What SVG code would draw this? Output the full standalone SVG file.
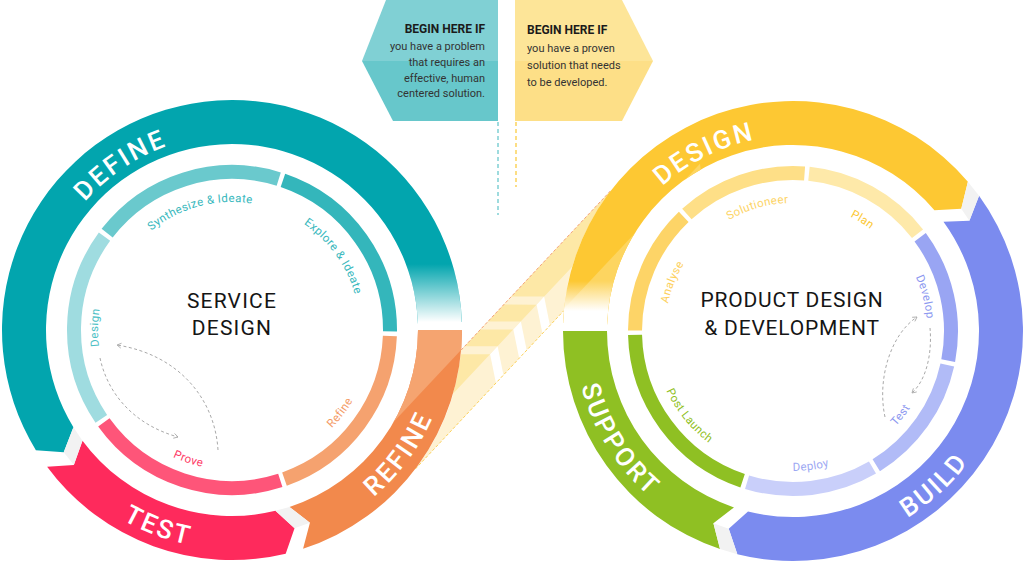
<svg xmlns="http://www.w3.org/2000/svg" width="1024" height="563" viewBox="0 0 1024 563">
<style>
.ring{font-family:Roboto,"Liberation Sans",sans-serif;font-size:26px;font-weight:500;fill:#fff;letter-spacing:2.5px}
.sub{font-family:Roboto,"Liberation Sans",sans-serif;font-size:11.5px;letter-spacing:0.4px}
.center{font-family:Roboto,"Liberation Sans",sans-serif;font-size:21px;fill:#151515;text-anchor:middle}
.btitle{font-family:Roboto,"Liberation Sans",sans-serif;font-size:12px;font-weight:700;fill:#1b1b1b}
.btext{font-family:Roboto,"Liberation Sans",sans-serif;font-size:11px;fill:#333}
.seg{fill:none;stroke-width:14}
.fold{fill:#f2f2f2}
.arrow{fill:none;stroke:#a9a9a9;stroke-width:1;stroke-dasharray:3 2.5}
</style>
<defs>
<marker id="chev" viewBox="0 0 10 10" refX="8" refY="5" markerWidth="7" markerHeight="7" orient="auto" markerUnits="userSpaceOnUse">
<path d="M2 1.5 L8 5 L2 8.5" fill="none" stroke="#a9a9a9" stroke-width="1.2"/>
</marker>
<linearGradient id="fadeL" gradientUnits="userSpaceOnUse" x1="0" y1="264" x2="0" y2="322">
<stop offset="0" stop-color="#fff" stop-opacity="0"/><stop offset="1" stop-color="#fff" stop-opacity="1"/>
</linearGradient>
<linearGradient id="fadeR" gradientUnits="userSpaceOnUse" x1="0" y1="281" x2="0" y2="311">
<stop offset="0" stop-color="#fff" stop-opacity="0"/><stop offset="1" stop-color="#fff" stop-opacity="1"/>
</linearGradient>
<clipPath id="clipRefine"><path d="M303.07 548.74 A230 230 0 0 0 462 330 L418 330 A186 186 0 0 1 289.48 506.90 L309.92 522.85 Z"/></clipPath>
<clipPath id="clipDesign"><path d="M563.14 322.97 A230 230 0 0 1 967.89 181.63 L961.28 208.74 L934.44 210.20 A186 186 0 0 0 607.11 324.51 Z"/></clipPath>
<path id="tpDefine" d="M37.48 343.60 A195 195 0 0 1 317.48 154.74"/>
<path id="tpTest" d="M16.00 366.15 A219 219 0 0 0 371.30 498.98"/>
<path id="tpRefine" d="M207.21 547.59 A219 219 0 0 0 432.84 242.67"/>
<path id="tpDesign" d="M598.36 319.10 A195 195 0 0 1 900.63 168.39"/>
<path id="tpBuild" d="M727.14 539.86 A219 219 0 0 0 1006.81 283.60"/>
<path id="tpSupport" d="M599.63 228.19 A219 219 0 0 0 800.64 549.87"/>
<path id="tpSynth" d="M115.99 275.90 A128 128 0 0 1 305.42 225.15"/>
<path id="tpExplore" d="M240.93 202.31 A128 128 0 0 1 356.20 360.97"/>
<path id="tpDesignIn" d="M144.08 431.13 A134 134 0 0 1 147.67 225.86"/>
<path id="tpProve" d="M101.65 381.08 A140 140 0 0 0 304.94 449.50"/>
<path id="tpRefineIn" d="M238.35 469.86 A140 140 0 0 0 368.63 299.46"/>
<path id="tpSolution" d="M676.07 278.94 A128 128 0 0 1 864.58 224.88"/>
<path id="tpPlan" d="M753.45 209.26 A128 128 0 0 1 919.75 313.19"/>
<path id="tpAnalyse" d="M679.98 391.09 A128 128 0 0 1 753.45 209.26"/>
<path id="tpDevelop" d="M850.99 209.85 A134 134 0 0 1 902.07 408.81"/>
<path id="tpTestIn" d="M797.89 470.91 A140 140 0 0 0 929.94 301.89"/>
<path id="tpDeploy" d="M698.42 434.22 A140 140 0 0 0 911.07 406.22"/>
<path id="tpPost" d="M655.48 304.77 A140 140 0 0 0 791.05 470.99"/>
</defs>

<g id="begin-service">
<polygon points="386,0 498,0 498,61 362,61" fill="#80d0d4"/>
<polygon points="362,61 498,61 498,121 393,121" fill="#67c7cb"/>
<text class="btitle" x="485" y="33" text-anchor="end">BEGIN HERE IF</text>
<text class="btext" text-anchor="end"><tspan x="485" y="49.5">you have a problem</tspan><tspan x="485" y="65.5">that requires an</tspan><tspan x="485" y="81.5">effective, human</tspan><tspan x="485" y="97">centered solution.</tspan></text>
</g>

<g id="begin-product">
<polygon points="515,0 622,0 653,61 515,61" fill="#fde598"/>
<polygon points="515,61 653,61 622,121 515,121" fill="#fddf87"/>
<text class="btitle" x="527" y="34">BEGIN HERE IF</text>
<text class="btext"><tspan x="527" y="52">you have a proven</tspan><tspan x="527" y="69">solution that needs</tspan><tspan x="527" y="86">to be developed.</tspan></text>
</g>

<g id="crossover">
<path d="M461.2 350.0 L611.4 189.9 A230 230 0 0 0 563.9 310.6 L415.4 468.9 A230 230 0 0 0 461.2 350.0 Z" fill="#fef2d3"/>
<path d="M461.2 350.0 L611.4 189.9 A230 230 0 0 0 572.2 266.7 L453.0 393.7 A230 230 0 0 0 461.2 350.0 Z" fill="#fde8a6"/>
<polygon points="490.08,354.21 497.6,346.19 464.71,346.18 457.19,354.2" fill="#fef2d3"/>
<polygon points="513.33,329.43 520.86,321.41 487.97,321.39 480.44,329.41" fill="#fef2d3"/>
<polygon points="536.59,304.64 544.11,296.62 511.22,296.61 503.7,304.62" fill="#fef2d3"/>
<polygon points="490.08,354.21 497.6,346.19 503.46,375.0 495.94,383.02" fill="#fff"/>
<polygon points="513.33,329.43 520.86,321.41 526.72,350.21 519.19,358.23" fill="#fff"/>
<polygon points="536.59,304.64 544.11,296.62 549.97,325.43 542.45,333.44" fill="#fff"/>
<line x1="461.2" y1="350.0" x2="611.4" y2="189.9" stroke="#f3a27c" stroke-width="1" stroke-dasharray="3 2"/>
<line x1="415.4" y1="468.9" x2="563.9" y2="310.6" stroke="#fcd15a" stroke-width="1" stroke-dasharray="3 2"/>
</g>

<g id="service-design">
<g id="phase-define">
<path d="M461.86 321.97 A230 230 0 1 0 35.89 450.18 L63.72 452.26 L73.41 427.19 A186 186 0 1 1 417.89 323.51 Z" fill="#02a5ae"/>
<path d="M440.45 232.80 A230 230 0 0 1 461.99 327.99 L417.99 328.38 A186 186 0 0 0 400.57 251.39 Z" fill="url(#fadeL)"/>
<text class="ring"><textPath href="#tpDefine" startOffset="50%" text-anchor="middle">DEFINE</textPath></text>
</g>
<g id="phase-test">
<path d="M47.11 466.81 A230 230 0 0 0 285.69 553.65 L294.55 528.37 L275.42 510.86 A186 186 0 0 1 82.48 440.64 L73.83 465.09 Z" fill="#fe2a5c"/>
<polygon class="fold" points="73.41,427.19 63.72,452.26 73.83,465.09 82.48,440.64"/>
<text class="ring"><textPath href="#tpTest" startOffset="50%" text-anchor="middle">TEST</textPath></text>
</g>
<g id="phase-refine">
<path d="M303.07 548.74 A230 230 0 0 0 462 330 L418 330 A186 186 0 0 1 289.48 506.90 L309.92 522.85 Z" fill="#f2894c"/>
<polygon points="490,319.2 339.9,479.2 300,300" fill="#f5a470" clip-path="url(#clipRefine)"/>
<polygon class="fold" points="275.42,510.86 294.55,528.37 309.92,522.85 289.48,506.90"/>
<text class="ring"><textPath href="#tpRefine" startOffset="50%" text-anchor="middle">REFINE</textPath></text>
</g>
<g id="step-explore">
<path class="seg" d="M282.92 180.43 A158 158 0 0 1 389.99 331.38" stroke="#34b6bb"/>
<text class="sub" fill="#38b8bd"><textPath href="#tpExplore" startOffset="50%" text-anchor="middle">Explore &amp; Ideate</textPath></text>
</g>
<g id="step-synthesize">
<path class="seg" d="M107.15 233.16 A158 158 0 0 1 278.72 179.07" stroke="#6ac9cd"/>
<text class="sub" fill="#38b8bd"><textPath href="#tpSynth" startOffset="50%" text-anchor="middle">Synthesize &amp; Ideate</textPath></text>
</g>
<g id="step-design">
<path class="seg" d="M101.32 418.81 A158 158 0 0 1 104.50 236.68" stroke="#9fdce0"/>
<text class="sub" fill="#4cc0c5"><textPath href="#tpDesignIn" startOffset="50%" text-anchor="middle">Design</textPath></text>
</g>
<g id="step-prove">
<path class="seg" d="M280.30 480.44 A158 158 0 0 1 103.85 422.42" stroke="#fe5579"/>
<text class="sub" fill="#fe3b66"><textPath href="#tpProve" startOffset="50%" text-anchor="middle">Prove</textPath></text>
</g>
<g id="step-refine">
<path class="seg" d="M389.88 336.07 A158 158 0 0 1 284.48 479.03" stroke="#f5a26f"/>
<text class="sub" fill="#f49b66"><textPath href="#tpRefineIn" startOffset="50%" text-anchor="middle">Refine</textPath></text>
</g>
<g id="title-service">
<text class="center" x="232" y="308" letter-spacing="1.2">SERVICE</text>
<text class="center" x="232" y="335" letter-spacing="1.2">DESIGN</text>
</g>
</g>

<g id="product-design">
<g id="phase-design">
<path d="M563.14 322.97 A230 230 0 0 1 967.89 181.63 L961.28 208.74 L934.44 210.20 A186 186 0 0 0 607.11 324.51 Z" fill="#fdc833"/>
<polygon points="542.9,331.2 700,163.8 720,340 560,360" fill="#fdd560" clip-path="url(#clipDesign)"/>
<path d="M563.03 326.99 A230 230 0 0 1 597.95 209.12 L635.26 232.43 A186 186 0 0 0 607.03 327.75 Z" fill="url(#fadeR)"/>
<text class="ring"><textPath href="#tpDesign" startOffset="50%" text-anchor="middle">DESIGN</textPath></text>
</g>
<g id="phase-build">
<path d="M979.07 195.81 A230 230 0 0 1 737.36 554.17 L728.72 528.82 L748.00 511.48 A186 186 0 0 0 943.48 221.67 L969.39 220.78 Z" fill="#7b8bef"/>
<polygon class="fold" points="967.89,181.63 961.28,208.74 969.39,220.78 979.07,195.81"/>
<text class="ring"><textPath href="#tpBuild" startOffset="50%" text-anchor="middle">BUILD</textPath></text>
</g>
<g id="phase-support">
<path d="M720.02 549.11 A230 230 0 0 1 563 331 L607 331 A186 186 0 0 0 733.98 507.39 L713.40 523.17 Z" fill="#8fc023"/>
<polygon class="fold" points="737.36,554.17 728.72,528.82 713.40,523.17 720.02,549.11"/>
<text class="ring"><textPath href="#tpSupport" startOffset="50%" text-anchor="middle">SUPPORT</textPath></text>
</g>
<g id="step-analyse">
<path class="seg" d="M635.00 330.45 A158 158 0 0 1 683.71 216.90" stroke="#fdd467"/>
<text class="sub" fill="#fdd05c"><textPath href="#tpAnalyse" startOffset="50%" text-anchor="middle">Analyse</textPath></text>
</g>
<g id="step-solutioneer">
<path class="seg" d="M686.87 213.95 A158 158 0 0 1 804.57 173.42" stroke="#fedf87"/>
<text class="sub" fill="#fdd466"><textPath href="#tpSolution" startOffset="50%" text-anchor="middle">Solutioneer</textPath></text>
</g>
<g id="step-plan">
<path class="seg" d="M808.97 173.81 A158 158 0 0 1 917.51 233.73" stroke="#fee9a9"/>
<text class="sub" fill="#fcc832"><textPath href="#tpPlan" startOffset="50%" text-anchor="middle">Plan</textPath></text>
</g>
<g id="step-develop">
<path class="seg" d="M920.17 237.24 A158 158 0 0 1 948.20 360.61" stroke="#99a5f3"/>
<text class="sub" fill="#8c98f0"><textPath href="#tpDevelop" startOffset="50%" text-anchor="middle">Develop</textPath></text>
</g>
<g id="step-test">
<path class="seg" d="M947.31 364.93 A158 158 0 0 1 876.26 465.28" stroke="#b1bbf7"/>
<text class="sub" fill="#8c98f0"><textPath href="#tpTestIn" startOffset="50%" text-anchor="middle">Test</textPath></text>
</g>
<g id="step-deploy">
<path class="seg" d="M872.48 467.55 A158 158 0 0 1 747.07 482.18" stroke="#c9cffa"/>
<text class="sub" fill="#9ca8f3"><textPath href="#tpDeploy" startOffset="50%" text-anchor="middle">Deploy</textPath></text>
</g>
<g id="step-postlaunch">
<path class="seg" d="M742.60 480.75 A158 158 0 0 1 635.05 334.86" stroke="#8fc023"/>
<text class="sub" fill="#8fc023"><textPath href="#tpPost" startOffset="50%" text-anchor="middle">Post Launch</textPath></text>
</g>
<g id="title-product">
<text class="center" x="792" y="307" letter-spacing="0.8">PRODUCT DESIGN</text>
<text class="center" x="792" y="335" letter-spacing="0.8">&amp; DEVELOPMENT</text>
</g>
</g>

<g id="connectors">
<line x1="498" y1="122" x2="498" y2="215" stroke="#7fd0d4" stroke-width="1.5" stroke-dasharray="4 3"/>
<line x1="516" y1="122" x2="516" y2="187" stroke="#fcd45c" stroke-width="1.5" stroke-dasharray="4 3"/>
<path class="arrow" d="M100 358 C108 395 135 425 178 437" marker-end="url(#chev)"/>
<path class="arrow" d="M218 450 C215 400 180 355 117 345" marker-end="url(#chev)"/>
<path class="arrow" d="M885 417 C877 380 890 335 917 317" marker-end="url(#chev)"/>
<path class="arrow" d="M930 328 C932 350 928 378 912 393" marker-end="url(#chev)"/>
</g>
</svg>
